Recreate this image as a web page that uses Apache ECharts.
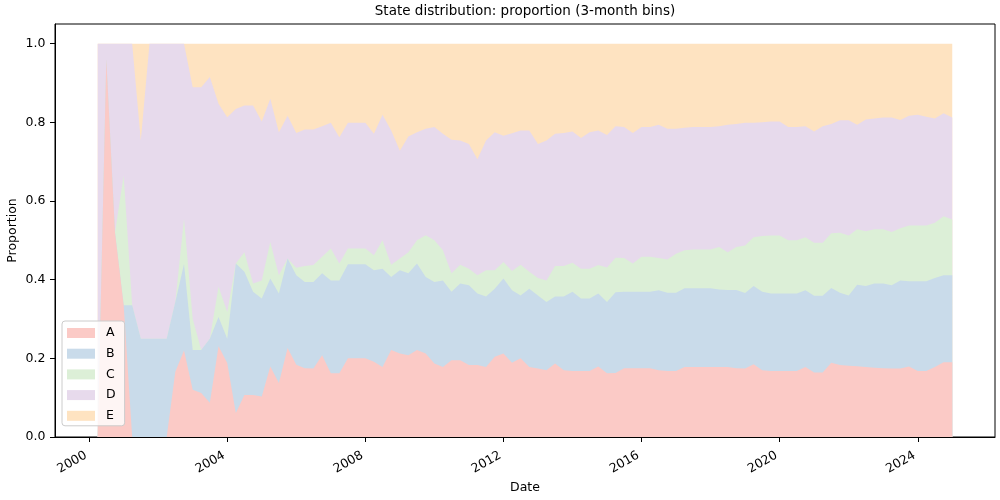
<!DOCTYPE html>
<html><head><meta charset="utf-8">
<script src="https://cdn.jsdelivr.net/npm/echarts@6.0.0/dist/echarts.min.js"></script>
<style>html,body{margin:0;padding:0;background:#fff}#c{width:1000px;height:500px}</style>
</head><body><div id="c"></div>
<script>
// quarter-end bin labels, 2000-Q1 .. 2024-Q4
const quarterEnds = ['03-31', '06-30', '09-30', '12-31'];
const dates = [];
for (let y = 2000; y <= 2024; y++) for (const q of quarterEnds) dates.push(y + '-' + q);

const seriesNames = ['A', 'B', 'C', 'D', 'E'];
const yTicks = [0, 0.2, 0.4, 0.6, 0.8, 1.0];
const xTickYears = [2000, 2004, 2008, 2012, 2016, 2020, 2024];

const A = [0,.96,.52,.335,0,0,0,0,0,.166, .22,.12,.112,.087,.231,.188,.061,.107,.107,.103,
 .179,.137,.226,.184,.175,.174,.208,.162,.162,.200, .200,.200,.191,.178,.221,.212,.208,.221,.212,.187,
 .178,.195,.195,.183,.183,.178,.204,.212,.189,.200, .178,.174,.170,.187,.170,.168,.168,.168,.179,.162,
 .163,.175,.175,.175,.175,.170,.168,.168,.178,.178, .178,.178,.178,.178,.175,.174,.185,.170,.168,.168,
 .168,.168,.178,.164,.164,.189,.183,.181,.180,.178, .176,.175,.174,.174,.179,.168,.168,.178,.190,.190];
const B = [0,0,0,0,.335,.25,.25,.25,.25,.177, .22,.101,.109,.163,.074,.062,.380,.313,.262,.249,
 .224,.228,.228,.227,.219,.220,.208,.236,.236,.239, .239,.239,.233,.250,.186,.212,.208,.220,.195,.207,
 .220,.174,.195,.203,.182,.179,.173,.191,.184,.160, .199,.186,.173,.170,.187,.201,.184,.184,.186,.181,
 .205,.194,.194,.194,.194,.203,.199,.199,.200,.200, .200,.200,.197,.196,.199,.192,.199,.199,.197,.197,
 .197,.197,.195,.195,.195,.190,.184,.179,.207,.206, .214,.215,.212,.224,.217,.228,.228,.226,.221,.221];
const C = [0,0,0,.33,0,0,0,0,0,0, .115,.079,0,0,.077,.068,0,.050,.021,.046,
 .093,.046,0,.019,.041,.043,.042,.081,.043,.040, .040,.040,.038,.072,.031,.030,.054,.059,.106,.106,
 .077,.047,.048,.042,.046,.067,.047,.042,.049,.078, .043,.044,.055,.078,.078,.074,.076,.076,.072,.088,
 .088,.086,.072,.089,.089,.082,.084,.099,.097,.099, .099,.099,.108,.096,.109,.121,.124,.142,.147,.147,
 .135,.135,.135,.135,.135,.139,.152,.152,.141,.139, .138,.138,.135,.133,.142,.142,.142,.141,.150,.142];
const D = [1,.04,.48,.335,.665,.504,.75,.75,.75,.657, .445,.589,.668,.665,.465,.495,.393,.373,.453,.404,
 .364,.364,.363,.343,.347,.345,.332,.320,.321,.320, .320,.320,.309,.319,.341,.274,.294,.275,.271,.288,
 .296,.340,.316,.317,.295,.330,.351,.321,.350,.341, .359,.341,.356,.336,.338,.334,.332,.347,.342,.337,
 .334,.333,.332,.330,.330,.339,.333,.318,.311,.311, .311,.311,.307,.324,.313,.312,.291,.289,.290,.290,
 .288,.288,.282,.283,.296,.278,.286,.293,.266,.284, .282,.284,.291,.275,.279,.281,.276,.265,.262,.259];
const E = [0,0,0,0,0,.246,0,0,0,0, 0,.111,.111,.085,.153,.187,.166,.157,.157,.198,
 .140,.225,.183,.227,.218,.218,.210,.201,.238,.201, .201,.201,.229,.181,.221,.272,.236,.225,.216,.212,
 .229,.244,.246,.255,.294,.246,.225,.234,.228,.221, .221,.255,.246,.229,.227,.223,.240,.225,.221,.232,
 .210,.212,.227,.212,.212,.206,.216,.216,.214,.212, .212,.212,.210,.206,.204,.201,.201,.200,.198,.198,
 .212,.212,.210,.223,.210,.204,.195,.195,.206,.193, .190,.188,.188,.194,.183,.181,.186,.190,.177,.188];

const values = [A, B, C, D, E];
const colors = ['#fbcac6', '#c9dbea', '#dcefd7', '#e7daec', '#fee3c1'];
const FONT = 'DejaVu Sans';

// date string -> fractional year (position on the value axis)
function toYear(s) {
  const [y, m, d] = s.split('-').map(Number);
  const t = Date.UTC(y, m - 1, d), t0 = Date.UTC(y, 0, 1), t1 = Date.UTC(y + 1, 0, 1);
  return y + (t - t0) / (t1 - t0);
}

// stacked tops: each layer's top = sum of it and all layers below;
// layers are drawn top-down so every lower layer paints over the upper fill.
const cumulative = values.map((_, k) => dates.map((_, i) => {
  let s = 0;
  for (let j = 0; j <= k; j++) s += values[j][i];
  return s;
}));

const series = seriesNames.map((name, k) => ({
  name: name, type: 'line',
  symbol: 'none', showSymbol: false,
  lineStyle: {width: 0},
  itemStyle: {color: colors[k]},
  areaStyle: {color: colors[k], opacity: 1, origin: 'start'},
  z: 2 + (seriesNames.length - k) * 0.01,
  data: dates.map((d, i) => [toYear(d), cumulative[k][i]])
})).reverse();

const chart = echarts.init(document.getElementById('c'), null, {renderer: 'canvas'});
chart.setOption({
  animation: false,
  backgroundColor: '#fff',
  textStyle: {fontFamily: FONT},
  title: {
    text: 'State distribution: proportion (3-month bins)',
    left: 520, top: -1, textAlign: 'center',
    textStyle: {fontFamily: FONT, fontSize: 13.5, fontWeight: 'normal', color: '#000'}
  },
  grid: {left: 55, right: 5, top: 24, bottom: 63, show: true, borderColor: '#000', borderWidth: 1,
         backgroundColor: 'transparent', outerBoundsMode: 'none', containLabel: false},
  legend: {
    orient: 'vertical', left: 62, top: 321,
    padding: [5, 9, 3, 5],
    itemWidth: 28, itemHeight: 10, itemGap: 6.7,
    icon: 'rect',
    backgroundColor: 'rgba(255,255,255,0.8)', borderColor: '#cccccc', borderWidth: 1, borderRadius: 3,
    textStyle: {fontFamily: FONT, fontSize: 12.5, color: '#000', lineHeight: 14, padding: [0, 0, 0, 6]},
    data: seriesNames
  },
  xAxis: {
    type: 'value',
    min: toYear('1999-01-04'), max: toYear('2026-03-28'),
    z: 5,
    name: 'Date', nameLocation: 'middle', nameGap: 44, nameMoveOverlap: false,
    nameTextStyle: {fontFamily: FONT, fontSize: 12.5, color: '#000'},
    axisLine: {show: true, onZero: false, lineStyle: {color: '#000', width: 1}},
    axisTick: {show: true, length: 5, lineStyle: {color: '#000'}, customValues: xTickYears},
    axisLabel: {
      rotate: 30, margin: 23, align: 'right', verticalAlign: 'bottom',
      fontFamily: FONT, fontSize: 12.5, color: '#000',
      customValues: xTickYears,
      formatter: v => String(Math.round(v))
    },
    splitLine: {show: false}
  },
  yAxis: {
    type: 'value', min: 0, max: 1.05,
    z: 5,
    name: 'Proportion', nameLocation: 'middle', nameGap: 36, nameMoveOverlap: false,
    nameTextStyle: {fontFamily: FONT, fontSize: 12.5, color: '#000'},
    axisLine: {show: true, onZero: false, lineStyle: {color: '#000', width: 1}},
    axisTick: {show: true, length: 5, lineStyle: {color: '#000'}, customValues: yTicks},
    axisLabel: {fontFamily: FONT, fontSize: 12.5, color: '#000', margin: 9.5, customValues: yTicks, formatter: v => v.toFixed(1)},
    splitLine: {show: false}
  },
  series: series
});
</script></body></html>
